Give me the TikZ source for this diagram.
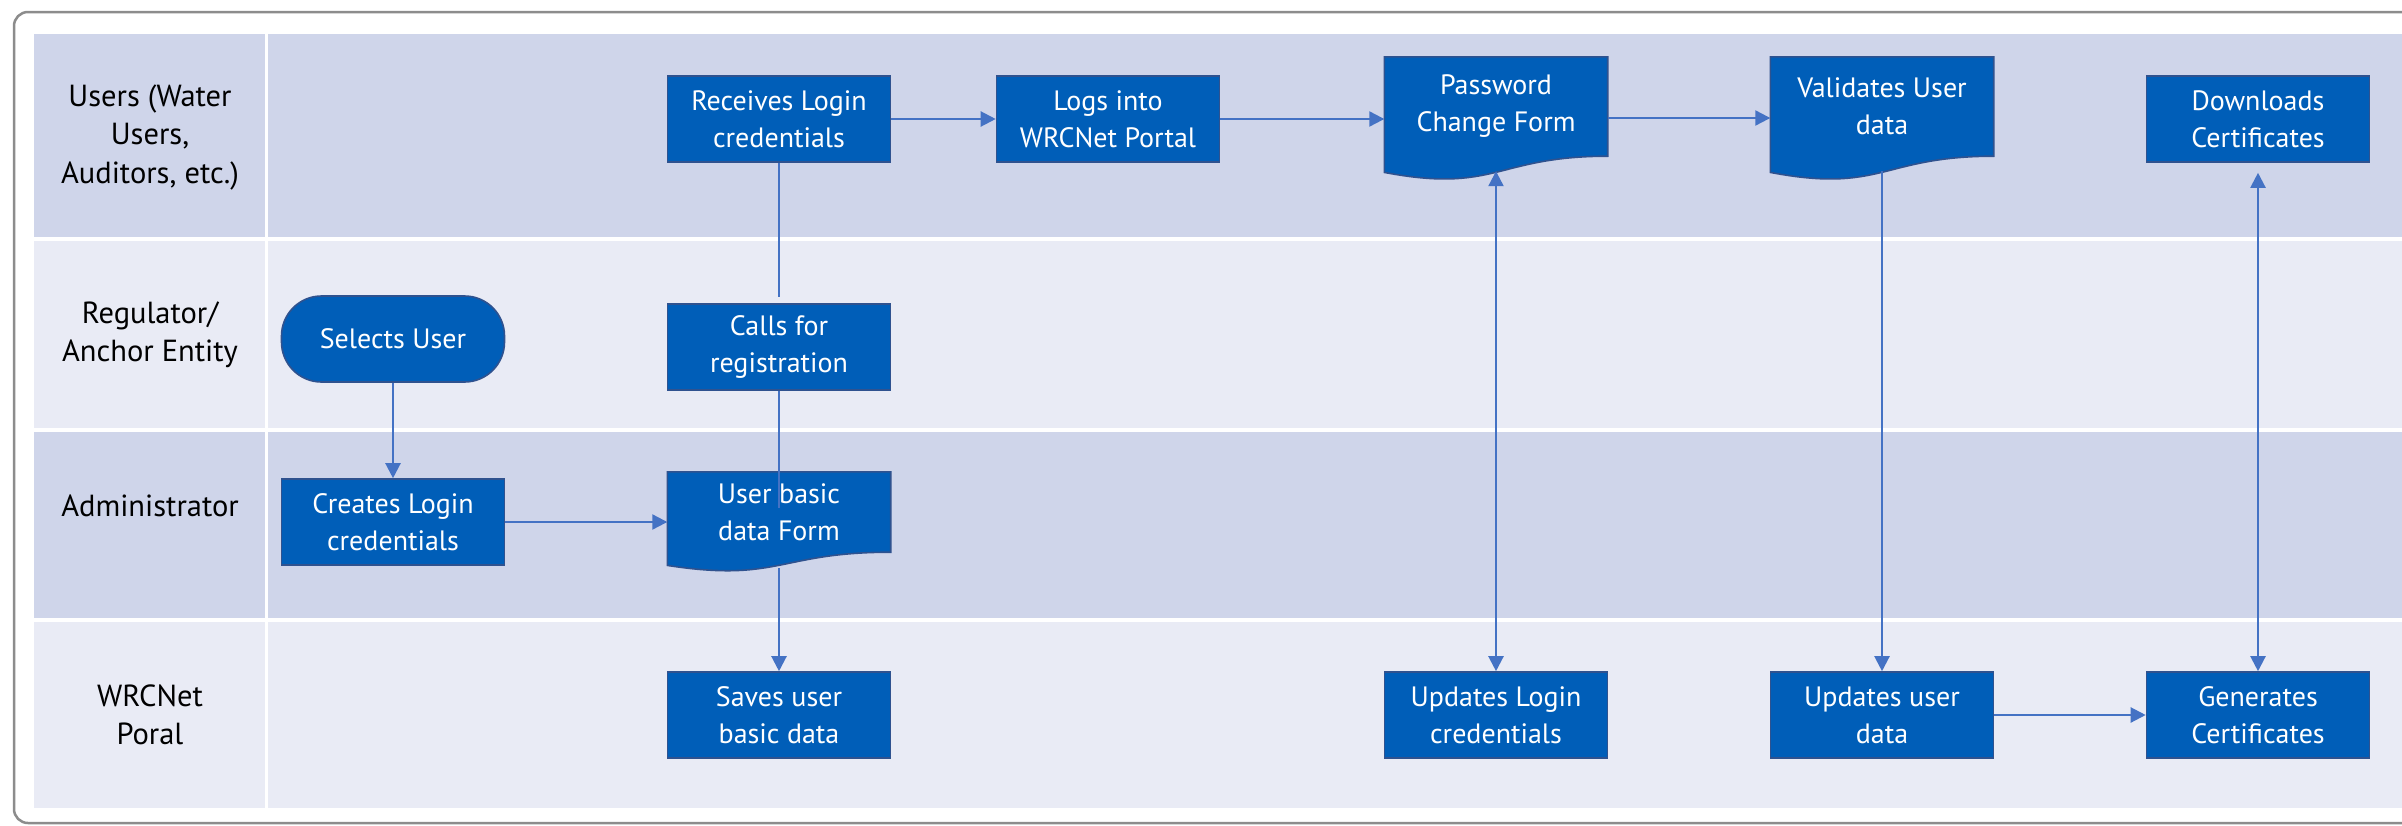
\documentclass[tikz,border=0pt]{standalone}
\usepackage{fontspec}
\setmainfont{PT Sans}
\usetikzlibrary{arrows.meta}
\definecolor{laneA}{HTML}{CFD5EA}
\definecolor{laneB}{HTML}{E9EBF5}
\definecolor{boxfill}{HTML}{005EB8}
\definecolor{boxedge}{HTML}{2F528F}
\definecolor{conn}{HTML}{4472C4}
\definecolor{frame}{HTML}{8C8C8C}
\begin{document}
\begin{tikzpicture}[x=1pt,y=-1pt,
  txt/.style={font=\fontsize{28}{37}\selectfont, align=center},
  hdr/.style={font=\fontsize{30.5}{38.5}\selectfont, align=center, text=black},
  box/.style={txt, text=white, fill=boxfill, draw=boxedge, line width=1.6pt,
    minimum width=223pt, minimum height=86pt, inner sep=0pt},
  term/.style={box, rounded corners=40pt},
  doctext/.style={txt, text=white, minimum width=223pt, inner sep=0pt},
  docshape/.style={fill=boxfill, draw=boxedge, line width=1.6pt},
  flow/.style={draw=conn, line width=2.2pt, -{Triangle[length=15pt,width=15pt]}},
  flow2/.style={draw=conn, line width=2.2pt, {Triangle[length=15pt,width=15pt]}-{Triangle[length=15pt,width=15pt]}},
  plain/.style={draw=conn, line width=2.2pt}]
\useasboundingbox (0,0) rectangle (2402,825);
\clip (0,0) rectangle (2402,825);
\fill[white] (0,0) rectangle (2402,825);
% outer frame
\draw[frame, line width=2.5pt, rounded corners=14pt] (14,12) rectangle (2460,823);
% lanes
\fill[laneA] (34,34) rectangle (2402,239);
\fill[laneB] (34,239) rectangle (2402,430);
\fill[laneA] (34,430) rectangle (2402,620);
\fill[laneB] (34,620) rectangle (2402,808);
\draw[white, line width=4pt] (34,239) -- (2402,239);
\draw[white, line width=4pt] (34,430) -- (2402,430);
\draw[white, line width=4pt] (34,620) -- (2402,620);
\draw[white, line width=3pt] (266,34) -- (266,808);
% headers
\node[hdr] (h1) at (150,137) {Users (Water\\Users,\\Auditors, etc.)};
\node[hdr] (h2) at (150,335) {Regulator/\\Anchor Entity};
\node[hdr] (h3) at (150,506) {Administrator};
\node[hdr] (h4) at (150,715) {WRCNet\\Poral};
% lane 1
\node[box] (recv) at (779,119) {Receives Login\\credentials};
\node[box] (logs) at (1108,119) {Logs into\\WRCNet Portal};
\node[doctext, minimum height=99pt] (pwd) at (1496,106.5) {};
\draw[docshape] (pwd.north west) -- (pwd.north east) -- (pwd.south east)
  .. controls (pwd.south) and ([yshift=-37.5pt]pwd.south) .. ([yshift=-16.2pt]pwd.south west) -- cycle;
\node[doctext] at (pwd) {Password\\Change Form};
\node[doctext, minimum height=99pt] (val) at (1882,106.5) {};
\draw[docshape] (val.north west) -- (val.north east) -- (val.south east)
  .. controls (val.south) and ([yshift=-37.5pt]val.south) .. ([yshift=-16.2pt]val.south west) -- cycle;
\node[doctext] at (val) {Validates User\\data};
\node[box] (down) at (2258,119) {Downloads\\Certificates};
% lane 2
\node[term] (sel) at (393,339) {Selects User};
\node[box] (calls) at (779,347) {Calls for\\registration};
% lane 3
\node[box] (create) at (393,522) {Creates Login\\credentials};
\node[doctext, minimum height=80pt] (form) at (779,512) {};
\draw[docshape] (form.north west) -- (form.north east) -- (form.south east)
  .. controls (form.south) and ([yshift=-30.5pt]form.south) .. ([yshift=-13.2pt]form.south west) -- cycle;
\node[doctext] at (form) {User basic\\data Form};
% lane 4
\node[box] (saves) at (779,715) {Saves user\\basic data};
\node[box] (updl) at (1496,715) {Updates Login\\credentials};
\node[box] (updu) at (1882,715) {Updates user\\data};
\node[box] (gen) at (2258,715) {Generates\\Certificates};
% connectors
\coordinate (recvend) at (779,297);
\coordinate (callsend) at (779,508);
\path[plain] (recv.south) -- (recvend);
\path[plain] (calls.south) -- (callsend);
\path[flow] ([yshift=-16pt]form.south) -- (saves.north);
\path[flow] (recv.east) -- (logs.west);
\path[flow] (logs.east) -- (logs.east -| pwd.west);
\path[flow] ([yshift=-11.5pt]pwd.east) -- ([yshift=-11.5pt]val.west);
\path[flow] (sel.south) -- (create.north);
\path[flow] (create.east) -- (create.east -| form.west);
\path[flow2] ([yshift=-15pt]pwd.south) -- (updl.north);
\path[flow] ([yshift=-15pt]val.south) -- (updu.north);
\path[flow2] ([yshift=-10pt]down.south) -- (gen.north);
\path[flow] (updu.east) -- (gen.west);
\end{tikzpicture}
\end{document}
